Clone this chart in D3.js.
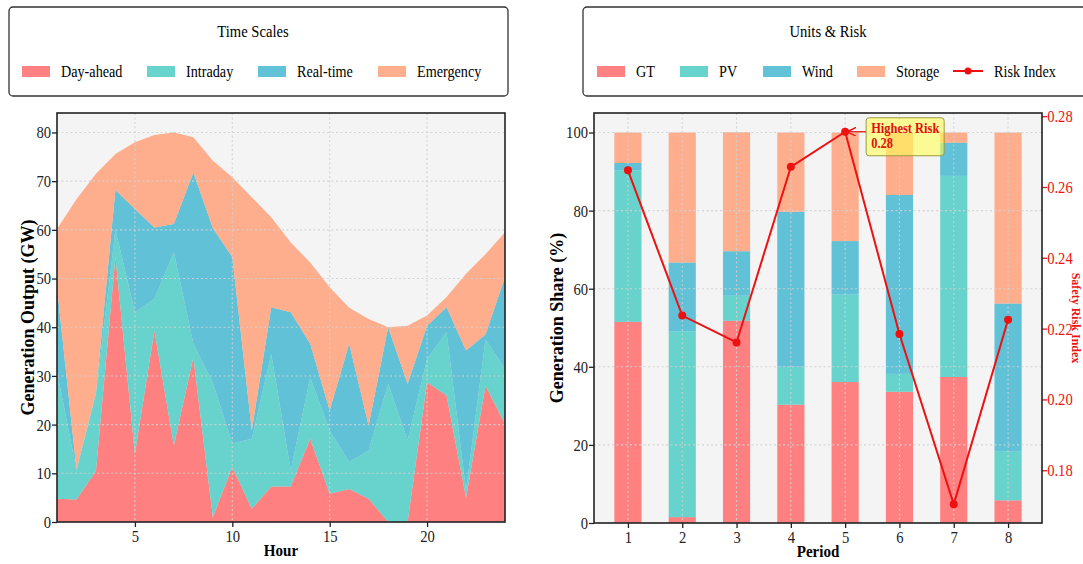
<!DOCTYPE html>
<html>
<head>
<meta charset="utf-8">
<script src="https://cdn.jsdelivr.net/npm/d3@7"></script>
<style>
    body { margin: 0; background: #ffffff; overflow: hidden; }
    svg { font-family: "Liberation Serif", "DejaVu Serif", serif; }
</style>
</head>
<body>
<script>
// left panel: hourly output by time scale (GW)
const hours = d3.range(1, 25);
const dayAhead  = [4.8, 4.6, 10.5, 54.4, 14.0, 39.3, 15.7, 33.8, 1.0, 11.3, 2.7, 7.3, 7.3, 17.1, 5.8, 6.8, 4.8, 0.0, 0.0, 28.7, 26.0, 5.0, 28.0, 20.2];
const intraday  = [26.2, 6.0, 15.8, 5.6, 29.1, 6.5, 39.7, 2.8, 27.6, 4.8, 14.4, 27.2, 3.3, 12.6, 13.0, 5.5, 9.9, 28.4, 16.8, 4.8, 13.0, 1.5, 9.5, 11.3];
const realTime  = [17.2, 0.2, 0.2, 8.2, 21.2, 14.7, 5.8, 35.2, 31.8, 38.3, 1.7, 9.6, 32.5, 6.9, 4.1, 24.3, 5.1, 11.6, 11.6, 6.8, 5.1, 28.7, 1.0, 18.8];
const emergency = [12.0, 55.5, 45.0, 7.4, 13.7, 19.0, 18.8, 7.2, 13.8, 16.4, 47.9, 18.5, 14.3, 16.7, 25.3, 7.4, 21.9, 0.0, 11.9, 2.1, 2.1, 15.8, 16.5, 9.2];
const timeScaleNames = ["Day-ahead", "Intraday", "Real-time", "Emergency"];

// right panel: unit share per period (%) and risk index
const periods = [1, 2, 3, 4, 5, 6, 7, 8];
const gtShare      = [51.5, 1.5, 51.8, 30.3, 36.1, 33.6, 37.4, 5.8];
const pvShare      = [38.8, 47.6, 6.4, 9.7, 22.4, 4.6, 51.5, 12.6];
const windShare    = [1.9, 17.6, 11.4, 39.7, 13.7, 45.8, 8.5, 37.8];
const storageShare = [7.8, 33.3, 30.5, 20.3, 27.8, 15.9, 2.6, 43.8];
const riskIndex    = [0.2647, 0.2237, 0.2161, 0.2657, 0.2756, 0.2185, 0.1704, 0.2225];
const unitNames = ["GT", "PV", "Wind", "Storage"];

const colors = ["#FF6B6B", "#4ECDC4", "#45B7D1", "#FFA07A"];
const riskColor = "#EE1111";
// the reference looks squeezed sideways, so horizontal text is narrowed a little
const squeeze = 0.86;

function main() {
    let svg = d3.select("body").append("svg")
        .attr("width", 1083)
        .attr("height", 564);

    drawLegendBox(svg, 9, 7, 499, 89, "Time Scales", 253,
        [{label: "Day-ahead", x: 22}, {label: "Intraday", x: 147}, {label: "Real-time", x: 258}, {label: "Emergency", x: 378}], false);
    drawLegendBox(svg, 583, 7, 520, 89, "Units & Risk", 828,
        [{label: "GT", x: 597}, {label: "PV", x: 680}, {label: "Wind", x: 763}, {label: "Storage", x: 857}], true);

    drawAreaChart(svg);
    drawBarChart(svg);
}

function squeezedText(parent, x, y, str, size) {
    return parent.append("text")
        .attr("transform", "translate(" + x + "," + y + ") scale(" + squeeze + ",1)")
        .attr("font-size", size)
        .text(str);
}

function drawLegendBox(svg, x, y, w, h, title, titleX, items, withRisk) {
    let g = svg.append("g");
    g.append("rect")
        .attr("x", x).attr("y", y).attr("width", w).attr("height", h)
        .attr("rx", 4)
        .attr("fill", "#fff")
        .attr("stroke", "#333")
        .attr("stroke-width", 1.3);
    squeezedText(g, titleX, 37, title, 17).attr("text-anchor", "middle");

    items.forEach(function (it, i) {
        g.append("rect")
            .attr("x", it.x).attr("y", 66).attr("width", 28).attr("height", 11)
            .attr("fill", colors[i]).attr("fill-opacity", 0.85);
        squeezedText(g, it.x + 39, 77, it.label, 16.5);
    });

    if (withRisk) {
        g.append("line")
            .attr("x1", 953).attr("x2", 983).attr("y1", 71).attr("y2", 71)
            .attr("stroke", riskColor).attr("stroke-width", 2);
        g.append("circle").attr("cx", 968).attr("cy", 71).attr("r", 3.5).attr("fill", riskColor);
        squeezedText(g, 994, 77, "Risk Index", 16.5);
    }
}

function drawGrid(g, xs, ys, x, y, width, height) {
    let grid = g.append("g");
    xs.forEach(function (t) {
        grid.append("line").attr("x1", x(t)).attr("x2", x(t)).attr("y1", 0).attr("y2", height);
    });
    ys.forEach(function (t) {
        grid.append("line").attr("x1", 0).attr("x2", width).attr("y1", y(t)).attr("y2", y(t));
    });
    grid.selectAll("line")
        .attr("stroke", "#d2d2d2")
        .attr("stroke-width", 1.1)
        .attr("stroke-dasharray", "2,2.5")
        .attr("opacity", 0.9);
}

function drawAreaChart(svg) {
    let margin = {left: 57, top: 113, right: 505, bottom: 522};
    let width = margin.right - margin.left,
        height = margin.bottom - margin.top;

    let x = d3.scaleLinear().domain([1, 24]).range([0, width]);
    let y = d3.scaleLinear().domain([0, 84]).range([height, 0]);

    let g = svg.append("g").attr("transform", "translate(" + margin.left + "," + margin.top + ")");

    g.append("rect").attr("width", width).attr("height", height).attr("fill", "#F4F4F4");

    let rows = hours.map(function (h, i) {
        return {hour: h, "Day-ahead": dayAhead[i], "Intraday": intraday[i], "Real-time": realTime[i], "Emergency": emergency[i]};
    });
    let series = d3.stack().keys(timeScaleNames)(rows);

    let area = d3.area()
        .x(function (d) { return x(d.data.hour); })
        .y0(function (d) { return y(d[0]); })
        .y1(function (d) { return y(d[1]); });

    g.selectAll(".layer")
        .data(series)
        .enter().append("path")
        .attr("d", area)
        .attr("fill", function (d, i) { return colors[i]; })
        .attr("fill-opacity", 0.85);

    // grid on top, like the reference
    drawGrid(g, [5, 10, 15, 20], d3.range(0, 81, 10), x, y, width, height);

    let xAxis = g.append("g")
        .attr("transform", "translate(0," + height + ")")
        .call(d3.axisBottom(x).tickValues([5, 10, 15, 20]).tickSize(5).tickPadding(3));
    let yAxis = g.append("g")
        .call(d3.axisLeft(y).tickValues(d3.range(0, 81, 10)).tickSize(5).tickPadding(2));
    styleAxis(xAxis, "#222");
    styleAxis(yAxis, "#222");

    g.append("rect").attr("width", width).attr("height", height)
        .attr("fill", "none").attr("stroke", "#222").attr("stroke-width", 1.6);

    squeezedText(g, width / 2, height + 34, "Hour", 17.5)
        .attr("text-anchor", "middle").attr("font-weight", "bold");
    g.append("text")
        .attr("transform", "translate(-23," + (height / 2) + ") rotate(-90)")
        .attr("text-anchor", "middle")
        .attr("font-size", 18).attr("font-weight", "bold")
        .text("Generation Output (GW)");
}

function drawBarChart(svg) {
    let margin = {left: 594, top: 113, right: 1042, bottom: 523};
    let width = margin.right - margin.left,
        height = margin.bottom - margin.top;

    let x = d3.scaleLinear().domain([0.375, 8.625]).range([0, width]);
    let y = d3.scaleLinear().domain([0, 105]).range([height, 0]);
    let yRisk = d3.scaleLinear().domain([0.1651, 0.2809]).range([height, 0]);
    let barW = x(1.5) - x(1);

    let g = svg.append("g").attr("transform", "translate(" + margin.left + "," + margin.top + ")");
    g.append("rect").attr("width", width).attr("height", height).attr("fill", "#F4F4F4");

    let rows = periods.map(function (p, i) {
        return {period: p, "GT": gtShare[i], "PV": pvShare[i], "Wind": windShare[i], "Storage": storageShare[i]};
    });
    let series = d3.stack().keys(unitNames)(rows);

    g.selectAll(".layer")
        .data(series)
        .enter().append("g")
        .attr("fill", function (d, i) { return colors[i]; })
        .attr("fill-opacity", 0.85)
        .selectAll("rect")
        .data(function (d) { return d; })
        .enter().append("rect")
        .attr("x", function (d) { return x(d.data.period) - barW / 2; })
        .attr("width", barW)
        .attr("y", function (d) { return y(d[1]); })
        .attr("height", function (d) { return y(d[0]) - y(d[1]); });

    drawGrid(g, periods, d3.range(0, 101, 20), x, y, width, height);

    // risk line
    let line = d3.line()
        .x(function (d, i) { return x(periods[i]); })
        .y(function (d) { return yRisk(d); });
    g.append("path")
        .datum(riskIndex)
        .attr("d", line)
        .attr("fill", "none")
        .attr("stroke", riskColor)
        .attr("stroke-width", 2);
    g.selectAll(".risk-dot")
        .data(riskIndex)
        .enter().append("circle")
        .attr("cx", function (d, i) { return x(periods[i]); })
        .attr("cy", function (d) { return yRisk(d); })
        .attr("r", 4)
        .attr("fill", riskColor);

    // annotation for the highest risk
    let maxI = d3.maxIndex(riskIndex);
    let px = x(periods[maxI]), py = yRisk(riskIndex[maxI]);
    let boxX = px + 21, boxY = py - 14;
    svg.append("defs").append("marker")
        .attr("id", "arrow")
        .attr("viewBox", "0 0 10 10")
        .attr("refX", 9).attr("refY", 5)
        .attr("markerWidth", 7).attr("markerHeight", 7)
        .attr("orient", "auto-start-reverse")
        .append("path")
        .attr("d", "M0,0 L10,5 L0,10")
        .attr("fill", "none")
        .attr("stroke", riskColor)
        .attr("stroke-width", 1.5);
    g.append("line")
        .attr("x1", boxX).attr("y1", py)
        .attr("x2", px + 3).attr("y2", py)
        .attr("stroke", riskColor)
        .attr("stroke-width", 1.3)
        .attr("marker-end", "url(#arrow)");
    g.append("rect")
        .attr("x", boxX).attr("y", boxY)
        .attr("width", 78).attr("height", 38)
        .attr("rx", 3)
        .attr("fill", "#FFFF55").attr("fill-opacity", 0.6)
        .attr("stroke", "#9a9a40").attr("stroke-width", 1);
    squeezedText(g, boxX + 5, boxY + 15, "Highest Risk", 14.5)
        .attr("font-weight", "bold").attr("fill", "#E01010");
    squeezedText(g, boxX + 5, boxY + 30, d3.format(".2f")(riskIndex[maxI]), 14.5)
        .attr("font-weight", "bold").attr("fill", "#E01010");

    let xAxis = g.append("g")
        .attr("transform", "translate(0," + height + ")")
        .call(d3.axisBottom(x).tickValues(periods).tickFormat(d3.format("d")).tickSize(5).tickPadding(3));
    let yAxis = g.append("g")
        .call(d3.axisLeft(y).tickValues(d3.range(0, 101, 20)).tickSize(5).tickPadding(2));
    let rAxis = g.append("g")
        .attr("transform", "translate(" + width + ",0)")
        .call(d3.axisRight(yRisk).tickValues([0.18, 0.20, 0.22, 0.24, 0.26, 0.28]).tickFormat(d3.format(".2f")).tickSize(5).tickPadding(1));
    styleAxis(xAxis, "#222");
    styleAxis(yAxis, "#222");
    styleAxis(rAxis, riskColor);

    g.append("rect").attr("width", width).attr("height", height)
        .attr("fill", "none").attr("stroke", "#222").attr("stroke-width", 1.6);

    squeezedText(g, width / 2, height + 34, "Period", 17.5)
        .attr("text-anchor", "middle").attr("font-weight", "bold");
    g.append("text")
        .attr("transform", "translate(-31," + (height / 2) + ") rotate(-90)")
        .attr("text-anchor", "middle")
        .attr("font-size", 18).attr("font-weight", "bold")
        .text("Generation Share (%)");
    // the reference cuts this title at the page edge; kept just inside here
    g.append("text")
        .attr("transform", "translate(" + (width + 30) + "," + (height / 2) + ") rotate(90)")
        .attr("text-anchor", "middle")
        .attr("font-size", 12).attr("font-weight", "bold")
        .attr("fill", riskColor)
        .text("Safety Risk Index");
}

function styleAxis(axis, color) {
    axis.select(".domain").remove();
    axis.selectAll(".tick line").attr("stroke", color).attr("stroke-width", 1.3);
    axis.selectAll(".tick text")
        .attr("fill", color)
        .attr("font-size", 17)
        .attr("font-family", "Liberation Serif, serif")
        .attr("transform", "scale(" + squeeze + ",1)");
}

main();
</script>
</body>
</html>
